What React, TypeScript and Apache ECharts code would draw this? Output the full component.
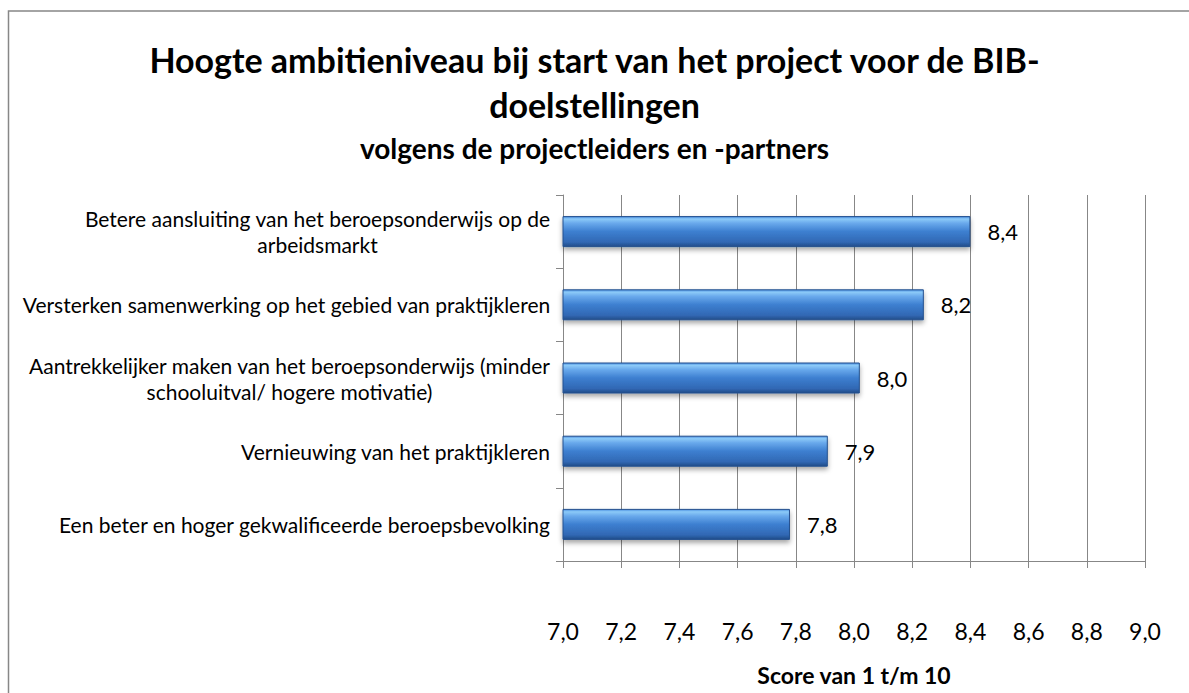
import React, { useEffect, useRef } from "react";
import * as echarts from "echarts";

const categories = [
  "Betere aansluiting van het beroepsonderwijs op de\narbeidsmarkt",
  "Versterken samenwerking op het gebied van praktijkleren",
  "Aantrekkelijker maken van het beroepsonderwijs (minder\nschooluitval/ hogere motivatie)",
  "Vernieuwing van het praktijkleren",
  "Een beter en hoger gekwalificeerde beroepsbevolking",
];
const scores = [8.4, 8.24, 8.02, 7.91, 7.78];
const xMin = 7;
const xMax = 9;
const xStep = 0.2;
const titleText = "Hoogte ambitieniveau bij start van het project voor de BIB-\ndoelstellingen";
const subtitleText = "volgens de projectleiders en -partners";
const axisName = "Score van 1 t/m 10";

const FONT = "Lato, 'Open Sans', sans-serif";
const LABEL_SIZE = 21;

function comma(v: number) {
  return v.toFixed(1).replace(".", ",");
}

export default function App() {
  const ref = useRef<HTMLDivElement>(null);
  useEffect(() => {
    if (!ref.current) return;
    const chart = echarts.init(ref.current, undefined, { renderer: "svg" });

    const canvas = document.createElement("canvas");
    const ctx = canvas.getContext("2d")!;
    ctx.font = `${LABEL_SIZE}px Lato`;
    const rich: Record<string, any> = {};
    categories.forEach((c, i) => {
      const lines = c.split("\n");
      const w = Math.max(...lines.map((l) => ctx.measureText(l).width));
      rich["r" + i] = {
        width: Math.ceil(w) + 1,
        align: "center",
        fontSize: LABEL_SIZE,
        fontFamily: FONT,
        color: "#000",
        lineHeight: 26,
      };
    });

    const gray = "#878787";
    chart.setOption({
      animation: false,
      backgroundColor: "#fff",
      textStyle: { fontFamily: FONT },
      title: [
        {
          text: titleText,
          left: "center",
          top: 32,
          textStyle: { fontSize: 34, fontWeight: "bold", color: "#000", lineHeight: 45, fontFamily: FONT },
        },
        {
          text: subtitleText,
          left: "center",
          top: 127,
          textStyle: { fontSize: 28, fontWeight: "bold", color: "#000", lineHeight: 32, fontFamily: FONT },
        },
      ],
      graphic: [
        {
          type: "rect",
          shape: { x: 8.5, y: 11, width: 1300, height: 800 },
          style: { fill: "none", stroke: gray, lineWidth: 1.5 },
          silent: true,
        },
      ],
      grid: { left: 563, right: 44, top: 195, bottom: 132, containLabel: false },
      xAxis: {
        type: "value",
        min: xMin,
        max: xMax,
        interval: xStep,
        axisLine: { show: true, lineStyle: { color: gray, width: 1 } },
        axisTick: { show: true, length: 7, lineStyle: { color: gray } },
        splitLine: { show: true, lineStyle: { color: gray, width: 1 } },
        axisLabel: {
          formatter: (v: number) => comma(v),
          fontSize: 23,
          color: "#000",
          margin: 58,
          fontFamily: FONT,
        },
        name: axisName,
        nameLocation: "middle",
        nameGap: 102,
        nameTextStyle: { fontSize: 23, fontWeight: "bold", color: "#000", fontFamily: FONT },
      },
      yAxis: {
        type: "category",
        inverse: true,
        data: categories,
        axisLine: { show: true, lineStyle: { color: gray, width: 1 } },
        axisTick: { show: true, length: 7, lineStyle: { color: gray } },
        axisLabel: {
          margin: 12,
          color: "#000",
          fontSize: LABEL_SIZE,
          fontFamily: FONT,
          lineHeight: 26,
          rich,
          formatter: (v: string, i: number) =>
            v
              .split("\n")
              .map((l) => `{r${i}|${l}}`)
              .join("\n"),
        },
      },
      series: [
        {
          type: "bar",
          data: scores,
          barWidth: 31,
          itemStyle: {
            color: new echarts.graphic.LinearGradient(0, 0, 0, 1, [
              { offset: 0, color: "#4a8ee0" },
              { offset: 0.08, color: "#8ccaf8" },
              { offset: 0.22, color: "#69a9ec" },
              { offset: 0.5, color: "#3d7fd0" },
              { offset: 0.85, color: "#3168b4" },
              { offset: 1, color: "#214c88" },
            ]),
            borderColor: "#24508e",
            borderWidth: 1,
            shadowColor: "rgba(0,0,0,0.35)",
            shadowBlur: 5,
            shadowOffsetY: 3,
          },
          label: {
            show: true,
            position: "right",
            distance: 17,
            fontSize: 22,
            color: "#000",
            fontFamily: FONT,
            formatter: (p: any) => comma(p.value),
          },
        },
      ],
    });
    return () => chart.dispose();
  }, []);
  return <div ref={ref} style={{ position: "fixed", left: 0, top: 0, width: 1189, height: 693 }} />;
}
